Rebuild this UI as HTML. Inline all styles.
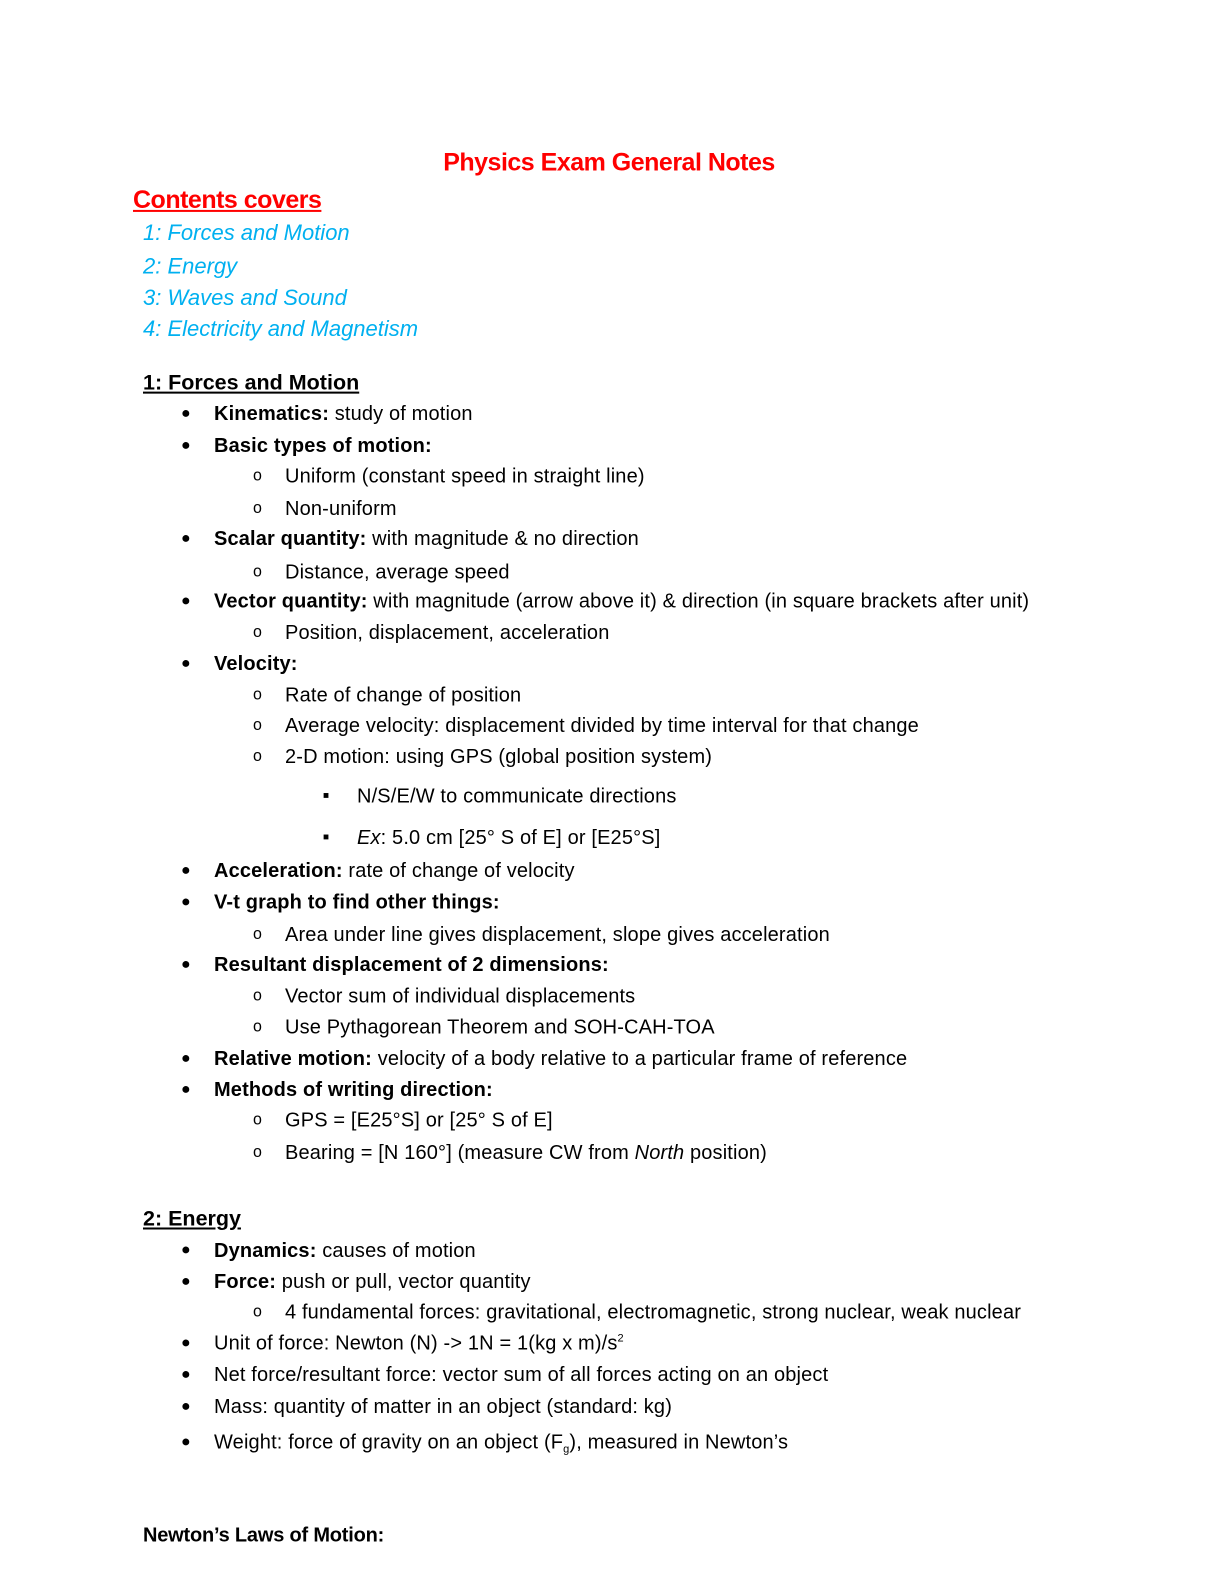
<!DOCTYPE html>
<html><head><meta charset="utf-8"><style>
body{margin:0;background:#fff;}
#p{position:relative;width:1224px;height:1584px;overflow:hidden;font-family:"Liberation Sans",sans-serif;color:#000;}
#w{position:absolute;left:2px;top:8px;width:1224px;height:1584px;transform:scaleY(1.0095);transform-origin:0 0}
.l{position:absolute;white-space:nowrap;font-size:20px;line-height:24px;letter-spacing:0.15px;}
.b{font-weight:bold}
.toc{color:#00b0f0;font-style:italic;font-size:22px;left:141px;letter-spacing:0}
.d{position:absolute;font-size:16px;line-height:24px}
</style></head><body><div id="p"><div id="w">
<div class="l b" style="left:12px;width:1190px;text-align:center;top:138px;font-size:25px;line-height:30px;color:#f00;letter-spacing:-0.5px">Physics Exam General Notes</div>
<div class="l b" style="left:131px;top:175px;font-size:25px;line-height:30px;color:#f00;text-decoration:underline;letter-spacing:-0.5px">Contents covers</div>
<div class="l toc" style="top:211px">1: Forces and Motion</div>
<div class="l toc" style="top:244px">2: Energy</div>
<div class="l toc" style="top:275px">3: Waves and Sound</div>
<div class="l toc" style="top:306px">4: Electricity and Magnetism</div>
<div class="l b" style="left:141px;top:359px;font-size:21.5px;letter-spacing:0;text-decoration:underline">1: Forces and Motion</div>

<div class="d" style="left:179px;top:390px">●</div><div class="l" style="left:212px;top:390px"><b>Kinematics:</b> study of motion</div>
<div class="d" style="left:179px;top:422px">●</div><div class="l b" style="left:212px;top:422px">Basic types of motion:</div>
<div class="d" style="left:251px;top:452px">o</div><div class="l" style="left:283px;top:452px">Uniform (constant speed in straight line)</div>
<div class="d" style="left:251px;top:484px">o</div><div class="l" style="left:283px;top:484px">Non-uniform</div>
<div class="d" style="left:179px;top:514px">●</div><div class="l" style="left:212px;top:514px"><b>Scalar quantity:</b> with magnitude &amp; no direction</div>
<div class="d" style="left:251px;top:547px">o</div><div class="l" style="left:283px;top:547px">Distance, average speed</div>
<div class="d" style="left:179px;top:576px">●</div><div class="l" style="left:212px;top:576px"><b>Vector quantity:</b> with magnitude (arrow above it) &amp; direction (in square brackets after unit)</div>
<div class="d" style="left:251px;top:607px">o</div><div class="l" style="left:283px;top:607px">Position, displacement, acceleration</div>
<div class="d" style="left:179px;top:638px">●</div><div class="l b" style="left:212px;top:638px">Velocity:</div>
<div class="d" style="left:251px;top:669px">o</div><div class="l" style="left:283px;top:669px">Rate of change of position</div>
<div class="d" style="left:251px;top:699px">o</div><div class="l" style="left:283px;top:699px">Average velocity: displacement divided by time interval for that change</div>
<div class="d" style="left:251px;top:730px">o</div><div class="l" style="left:283px;top:730px">2-D motion: using GPS (global position system)</div>
<div class="d" style="left:321px;top:769px;font-size:10px">■</div><div class="l" style="left:355px;top:769px">N/S/E/W to communicate directions</div>
<div class="d" style="left:321px;top:810px;font-size:10px">■</div><div class="l" style="left:355px;top:810px"><i>Ex</i>: 5.0 cm [25° S of E] or [E25°S]</div>
<div class="d" style="left:179px;top:843px">●</div><div class="l" style="left:212px;top:843px"><b>Acceleration:</b> rate of change of velocity</div>
<div class="d" style="left:179px;top:874px">●</div><div class="l b" style="left:212px;top:874px">V-t graph to find other things:</div>
<div class="d" style="left:251px;top:906px">o</div><div class="l" style="left:283px;top:906px">Area under line gives displacement, slope gives acceleration</div>
<div class="d" style="left:179px;top:936px">●</div><div class="l b" style="left:212px;top:936px">Resultant displacement of 2 dimensions:</div>
<div class="d" style="left:251px;top:967px">o</div><div class="l" style="left:283px;top:967px">Vector sum of individual displacements</div>
<div class="d" style="left:251px;top:998px">o</div><div class="l" style="left:283px;top:998px">Use Pythagorean Theorem and SOH-CAH-TOA</div>
<div class="d" style="left:179px;top:1029px">●</div><div class="l" style="left:212px;top:1029px"><b>Relative motion:</b> velocity of a body relative to a particular frame of reference</div>
<div class="d" style="left:179px;top:1060px">●</div><div class="l b" style="left:212px;top:1060px">Methods of writing direction:</div>
<div class="d" style="left:251px;top:1090px">o</div><div class="l" style="left:283px;top:1090px">GPS = [E25°S] or [25° S of E]</div>
<div class="d" style="left:251px;top:1122px">o</div><div class="l" style="left:283px;top:1122px">Bearing = [N 160°] (measure CW from <i>North</i> position)</div>

<div class="l b" style="left:141px;top:1187px;font-size:21.5px;letter-spacing:0;text-decoration:underline">2: Energy</div>
<div class="d" style="left:179px;top:1219px">●</div><div class="l" style="left:212px;top:1219px"><b>Dynamics:</b> causes of motion</div>
<div class="d" style="left:179px;top:1250px">●</div><div class="l" style="left:212px;top:1250px"><b>Force:</b> push or pull, vector quantity</div>
<div class="d" style="left:251px;top:1280px">o</div><div class="l" style="left:283px;top:1280px">4 fundamental forces: gravitational, electromagnetic, strong nuclear, weak nuclear</div>
<div class="d" style="left:179px;top:1311px">●</div><div class="l" style="left:212px;top:1311px;line-height:24px">Unit of force: Newton (N) -&gt; 1N = 1(kg x m)/s<span style="font-size:11px;vertical-align:8px;line-height:0">2</span></div>
<div class="d" style="left:179px;top:1342px">●</div><div class="l" style="left:212px;top:1342px">Net force/resultant force: vector sum of all forces acting on an object</div>
<div class="d" style="left:179px;top:1374px">●</div><div class="l" style="left:212px;top:1374px">Mass: quantity of matter in an object (standard: kg)</div>
<div class="d" style="left:179px;top:1409px">●</div><div class="l" style="left:212px;top:1409px">Weight: force of gravity on an object (F<span style="font-size:11px;vertical-align:-4px;line-height:0">g</span>), measured in Newton’s</div>
<div class="l b" style="left:141px;top:1501px;letter-spacing:-0.2px">Newton’s Laws of Motion:</div>
</div></div></body></html>
